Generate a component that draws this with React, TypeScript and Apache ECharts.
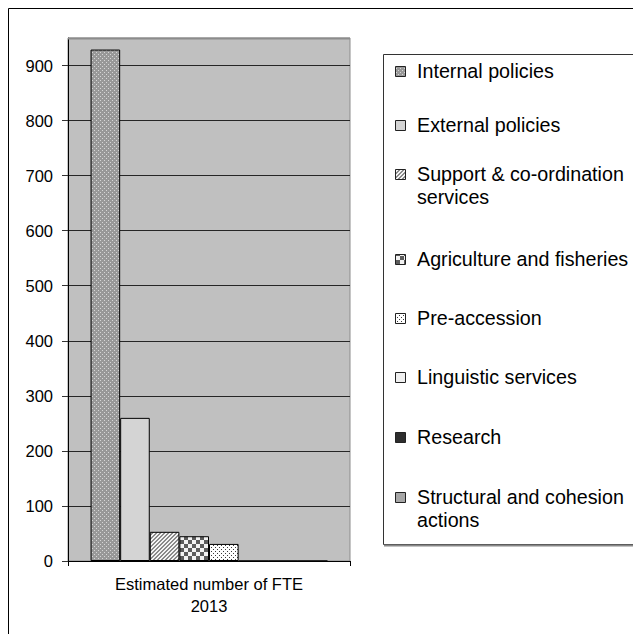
import React, { useEffect, useRef } from "react";
import * as echarts from "echarts";

// Staff estimate for 2013, one bar per budget heading
const categories = ["Estimated number of FTE\n2013"];
const seriesNames = [
  "Internal policies",
  "External policies",
  "Support & co-ordination services",
  "Agriculture and fisheries",
  "Pre-accession",
  "Linguistic services",
  "Research",
  "Structural and cohesion actions",
];
const legendLines = [
  ["Internal policies"],
  ["External policies"],
  ["Support & co-ordination", "services"],
  ["Agriculture and fisheries"],
  ["Pre-accession"],
  ["Linguistic services"],
  ["Research"],
  ["Structural and cohesion", "actions"],
];
const fteValues = [929, 260, 53, 45, 31, 0, 0, 0];
const yAxisMax = 950;
const yAxisStep = 100;

const FONT = "'Liberation Sans', Arial, sans-serif";

// Small bitmap tiles used as repeating fills for bars and legend keys
function tile(size: number, paint: (ctx: CanvasRenderingContext2D) => void) {
  const c = document.createElement("canvas");
  c.width = size;
  c.height = size;
  const ctx = c.getContext("2d")!;
  paint(ctx);
  return { image: c, repeat: "repeat" as const };
}

function makeFills() {
  const dotted = tile(4, (ctx) => {
    ctx.fillStyle = "#989898";
    ctx.fillRect(0, 0, 4, 4);
    ctx.fillStyle = "#d6d6d6";
    ctx.fillRect(0, 0, 1, 1);
    ctx.fillRect(2, 2, 1, 1);
  });
  const hatch = tile(4, (ctx) => {
    for (let x = 0; x < 4; x++) {
      for (let y = 0; y < 4; y++) {
        ctx.fillStyle = (x + y) % 4 < 2 ? "#8a8a8a" : "#f4f4f4";
        ctx.fillRect(x, y, 1, 1);
      }
    }
  });
  const checker = tile(8, (ctx) => {
    ctx.fillStyle = "#f2f2f2";
    ctx.fillRect(0, 0, 8, 8);
    ctx.fillStyle = "#5c5c5c";
    ctx.fillRect(0, 0, 4, 4);
    ctx.fillRect(4, 4, 4, 4);
  });
  const sparse = tile(4, (ctx) => {
    ctx.fillStyle = "#ffffff";
    ctx.fillRect(0, 0, 4, 4);
    ctx.fillStyle = "#3a3a3a";
    ctx.fillRect(1, 1, 1, 1);
    ctx.fillRect(3, 3, 1, 1);
  });
  return [dotted, "#d4d4d4", hatch, checker, sparse, "#efefef", "#2e2e2e", "#a6a6a6"];
}

export default function App() {
  const ref = useRef<HTMLDivElement>(null);

  useEffect(() => {
    if (!ref.current) return;
    const chart = echarts.init(ref.current, undefined, { renderer: "svg" });
    const fills = makeFills();

    const gridLeft = 68;
    const gridTop = 38;
    const gridWidth = 282;
    const gridHeight = 523;

    // Legend drawn as a boxed list; two-line entries keep the key on the first line
    const legendX = 383;
    const legendTop = 54;
    const legendBottom = 544;
    const rowY = [71, 125, 174, 259, 318, 377, 437, 497];
    const lineGap = 23;
    const legendItems: any[] = [];
    legendLines.forEach((lines, i) => {
      const y0 = rowY[i];
      legendItems.push({
        type: "rect",
        shape: { x: legendX + 12.5, y: y0 - 4.5, width: 10, height: 10 },
        style: { fill: fills[i] as any, stroke: "#222", lineWidth: 1 },
        z: 10,
      });
      lines.forEach((t, j) => {
        legendItems.push({
          type: "text",
          x: legendX + 34,
          y: y0 + j * lineGap,
          style: {
            text: t,
            font: `19.7px ${FONT}`,
            fill: "#000",
            textVerticalAlign: "middle",
            textAlign: "left",
          },
          z: 10,
        });
      });
    });

    chart.setOption({
      animation: false,
      backgroundColor: "#ffffff",
      grid: {
        left: gridLeft,
        top: gridTop,
        width: gridWidth,
        height: gridHeight,
        show: true,
        backgroundColor: "#c0c0c0",
        borderColor: "#8c8c8c",
        borderWidth: 1,
        containLabel: false,
      },
      xAxis: {
        type: "category",
        data: categories,
        axisLine: { show: true, lineStyle: { color: "#000", width: 1 } },
        axisTick: { show: true, length: 5, lineStyle: { color: "#000" } },
        axisLabel: {
          color: "#000",
          fontFamily: FONT,
          fontSize: 16.5,
          lineHeight: 22,
          margin: 12,
        },
      },
      yAxis: {
        type: "value",
        min: 0,
        max: yAxisMax,
        interval: yAxisStep,
        axisLine: { show: true, lineStyle: { color: "#000", width: 1 } },
        axisTick: { show: true, length: 6, lineStyle: { color: "#333" } },
        splitLine: { show: true, lineStyle: { color: "#262626", width: 1 } },
        axisLabel: {
          color: "#000",
          fontFamily: FONT,
          fontSize: 16.5,
          margin: 15,
          showMaxLabel: false,
          formatter: (v: number) => (v > 900 ? "" : String(v)),
        },
      },
      series: seriesNames.map((name, i) => ({
        name,
        type: "bar",
        data: [fteValues[i]],
        barGap: "0%",
        barCategoryGap: "16%",
        itemStyle: {
          color: fills[i] as any,
          borderColor: "#000",
          borderWidth: 1,
        },
      })),
      graphic: [
        // outer chart frame, its right and bottom edges fall outside the page
        {
          type: "rect",
          shape: { x: 8.5, y: 8.5, width: 1200, height: 1200 },
          style: { fill: "none", stroke: "#000", lineWidth: 1 },
          z: 1,
          silent: true,
        },
        // top edge of the plot area over the split line at the axis maximum
        {
          type: "line",
          shape: { x1: gridLeft, y1: gridTop + 0.5, x2: gridLeft + gridWidth, y2: gridTop + 0.5 },
          style: { stroke: "#8c8c8c", lineWidth: 2 },
          z: 5,
          silent: true,
        },
        {
          type: "rect",
          shape: { x: legendX + 0.5, y: legendTop + 0.5, width: 600, height: legendBottom - legendTop },
          style: { fill: "#fff", stroke: "#333", lineWidth: 1 },
          z: 2,
          silent: true,
        },
        {
          type: "line",
          shape: { x1: legendX + 1, y1: legendBottom + 1.5, x2: 640, y2: legendBottom + 1.5 },
          style: { stroke: "#888", lineWidth: 2 },
          z: 2,
          silent: true,
        },
        ...legendItems,
      ],
    });

    return () => chart.dispose();
  }, []);

  return (
    <div
      ref={ref}
      style={{ position: "fixed", left: 0, top: 0, width: 633, height: 634, background: "#fff" }}
    />
  );
}
